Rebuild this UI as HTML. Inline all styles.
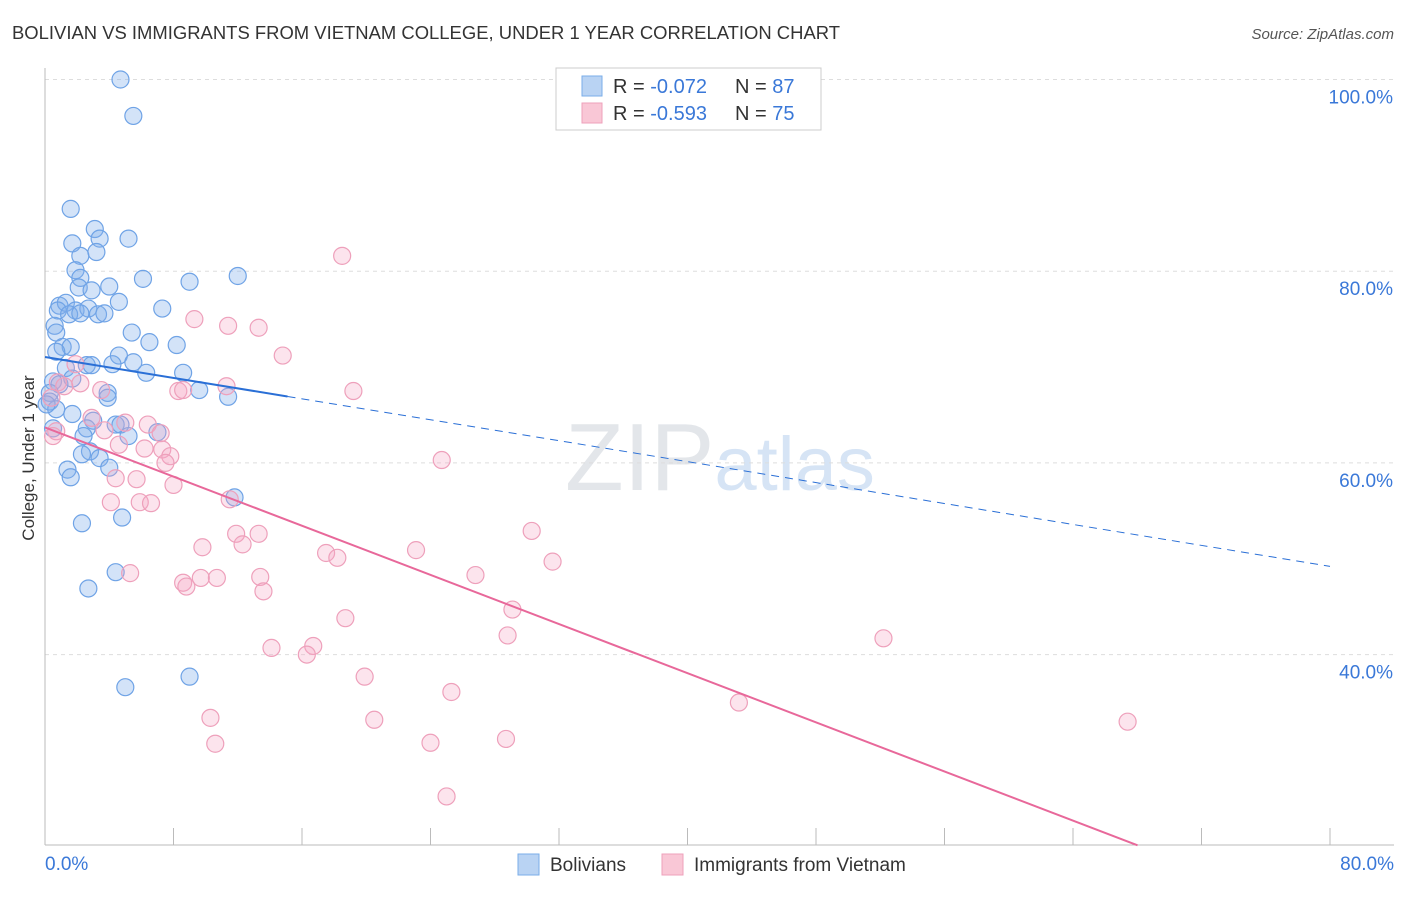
<!DOCTYPE html>
<html><head><meta charset="utf-8"><style>
body{margin:0;background:#fff;font-family:"Liberation Sans",sans-serif;}
svg text{font-family:"Liberation Sans",sans-serif;}
</style></head><body>
<svg id="chart" width="1406" height="892" xmlns="http://www.w3.org/2000/svg">
<text x="12" y="39" font-size="18" fill="#333" textLength="828" lengthAdjust="spacingAndGlyphs">BOLIVIAN VS IMMIGRANTS FROM VIETNAM COLLEGE, UNDER 1 YEAR CORRELATION CHART</text>
<text x="1394" y="39" font-size="15" fill="#555" text-anchor="end" font-style="italic">Source: ZipAtlas.com</text>
<text transform="translate(34,458) rotate(-90)" font-size="17" fill="#333" text-anchor="middle">College, Under 1 year</text>
<text x="720" y="490" font-size="96" fill="#e3e6ea" text-anchor="middle" font-family="Liberation Serif">ZIP<tspan fill="#d6e4f5" font-family="Liberation Sans" font-size="76">atlas</tspan></text>
<g id="grid"></g><g id="pts"></g><g id="lines"></g>
<g>
<rect x="556" y="68" width="265" height="62" fill="#fff" stroke="#ccc"/>
<rect x="582" y="76" width="20" height="20" fill="#b9d3f3" stroke="#7aaee8"/>
<rect x="582" y="103" width="20" height="20" fill="#f9c7d6" stroke="#eea0bb"/>
<text x="613" y="93" font-size="20" fill="#333">R = <tspan fill="#3a78d8">-0.072</tspan></text>
<text x="735" y="93" font-size="20" fill="#333">N = <tspan fill="#3a78d8">87</tspan></text>
<text x="613" y="120" font-size="20" fill="#333">R = <tspan fill="#3a78d8">-0.593</tspan></text>
<text x="735" y="120" font-size="20" fill="#333">N = <tspan fill="#3a78d8">75</tspan></text>
</g>
<g>
<rect x="518" y="854" width="21" height="21" fill="#b9d3f3" stroke="#7aaee8"/>
<text x="550" y="871" font-size="19" fill="#333">Bolivians</text>
<rect x="662" y="854" width="21" height="21" fill="#f9c7d6" stroke="#eea0bb"/>
<text x="694" y="871" font-size="19" fill="#333">Immigrants from Vietnam</text>
</g>
</svg>
<script>
const yTicks=[40,60,80,100];
const yTickLabels=["40.0%","60.0%","80.0%","100.0%"];
const xEndLabels=["0.0%","80.0%"];
const blueX=[4.7,5.5,1.6,3.1,1.7,3.4,5.2,2.2,3.2,1.9,2.2,6.1,9.0,12.0,2.1,4.0,2.9,0.9,1.3,4.6,0.8,1.9,2.7,7.3,1.5,2.2,3.3,3.7,0.6,0.7,5.4,6.5,8.2,1.1,1.6,0.7,4.6,2.6,2.9,4.2,5.5,1.3,6.3,8.6,0.5,0.9,1.7,0.3,9.6,3.9,11.4,3.9,0.3,0.7,0.1,1.7,3.0,2.6,4.4,4.7,7.0,2.4,5.2,0.5,2.8,2.3,3.4,4.0,1.4,1.6,11.8,4.8,2.3,4.4,2.7,9.0,5.0];
const blueY=[100,96.2,86.5,84.4,82.9,83.4,83.4,81.6,82.0,80.1,79.3,79.2,78.9,79.5,78.3,78.4,78.0,76.4,76.7,76.8,75.9,75.9,76.1,76.1,75.5,75.6,75.5,75.6,74.3,73.6,73.6,72.6,72.3,72.1,72.1,71.6,71.2,70.2,70.2,70.3,70.5,69.9,69.4,69.4,68.5,68.2,68.8,67.3,67.6,67.3,66.9,66.8,66.4,65.6,66.1,65.1,64.4,63.6,64.0,64.0,63.2,62.8,62.8,63.6,61.2,60.9,60.5,59.5,59.3,58.5,56.4,54.3,53.7,48.6,46.9,37.7,36.6];
const pinkX=[18.5,9.3,11.4,13.3,14.8,1.9,11.3,8.3,8.6,19.2,3.5,0.8,1.2,2.2,0.4,2.9,5.0,6.4,3.7,0.7,7.2,0.5,4.6,6.2,7.3,7.8,7.5,24.7,4.4,5.7,8.0,11.5,4.1,5.9,6.6,30.3,11.9,13.3,12.3,9.8,23.1,17.5,18.2,31.6,5.3,26.8,9.7,10.7,13.4,8.6,8.8,13.6,29.1,18.7,28.8,52.2,16.7,14.1,16.3,19.9,25.3,43.2,10.3,20.5,67.4,10.6,24.0,28.7,25.0];
const pinkY=[81.6,75.0,74.3,74.1,71.2,70.3,68.0,67.5,67.6,67.5,67.6,68.4,68.0,68.3,66.8,64.7,64.2,64.0,63.4,63.3,63.1,62.8,61.9,61.5,61.4,60.7,60.0,60.3,58.4,58.3,57.7,56.2,55.9,55.9,55.8,52.9,52.6,52.6,51.5,51.2,50.9,50.6,50.1,49.7,48.5,48.3,48.0,48.0,48.1,47.5,47.1,46.6,44.7,43.8,42.0,41.7,40.9,40.7,40.0,37.7,36.1,35.0,33.4,33.2,33.0,30.7,30.8,31.2,25.2];
const blueTrend=[71.05,-0.273];
const pinkTrend=[63.7,-0.641];
const NS="http://www.w3.org/2000/svg";
const sx=v=>45+v*1285/80, sy=v=>1038-v*9.585;
function mk(tag,attrs,parent){const e=document.createElementNS(NS,tag);for(const k in attrs)e.setAttribute(k,attrs[k]);parent.appendChild(e);return e;}
const grid=document.getElementById('grid');
yTicks.forEach((t,i)=>{
 const l=mk('line',{x1:45,x2:1394,y1:sy(t),y2:sy(t),stroke:'#ddd','stroke-dasharray':'4,4'},grid);
 
 
 const tx=mk('text',{x:1393,y:sy(t)+24,'font-size':19,fill:'#3a78d8','text-anchor':'end'},grid);
 tx.textContent=yTickLabels[i];
 
 
});
mk('line',{x1:45,x2:45,y1:68,y2:845,stroke:'#bbb'},grid);
mk('line',{x1:45,x2:1394,y1:845,y2:845,stroke:'#bbb'},grid);
for(let i=0;i<=10;i++){const x=sx(i*8);const t=mk('line',{x1:x,x2:x,y1:828,y2:845,stroke:'#bbb'},grid);
 
 }
[[0,45,'start'],[80,1394,'end']].forEach((a,i)=>{const t=mk('text',{x:a[1],y:870,'font-size':19,fill:'#3a78d8','text-anchor':a[2]},grid);t.textContent=xEndLabels[i];
 
 });
const pts=document.getElementById('pts');
blueX.forEach((x,i)=>{const c=mk('circle',{cx:sx(x),cy:sy(blueY[i]),r:8.5,fill:'rgba(130,175,235,0.35)',stroke:'#6fa3e6','stroke-width':1.2},pts);
 
 });
pinkX.forEach((x,i)=>{const c=mk('circle',{cx:sx(x),cy:sy(pinkY[i]),r:8.5,fill:'rgba(245,165,195,0.3)',stroke:'#eea0bb','stroke-width':1.2},pts);
 
 });
const lines=document.getElementById('lines');
const f=(tr,x)=>tr[0]+tr[1]*x;
let l1=mk('line',{x1:sx(0),y1:sy(f(blueTrend,0)),x2:sx(15.1),y2:sy(f(blueTrend,15.1)),stroke:'#2a6fd6','stroke-width':2},lines);


let l2=mk('line',{x1:sx(15.1),y1:sy(f(blueTrend,15.1)),x2:sx(80),y2:sy(f(blueTrend,80)),stroke:'#2a6fd6','stroke-width':1,'stroke-dasharray':'8,6'},lines);


const pEnd=(20.1-pinkTrend[0])/pinkTrend[1];
let l3=mk('line',{x1:sx(0),y1:sy(f(pinkTrend,0)),x2:sx(pEnd),y2:sy(f(pinkTrend,pEnd)),stroke:'#e8689a','stroke-width':2},lines);


</script>
</body></html>
